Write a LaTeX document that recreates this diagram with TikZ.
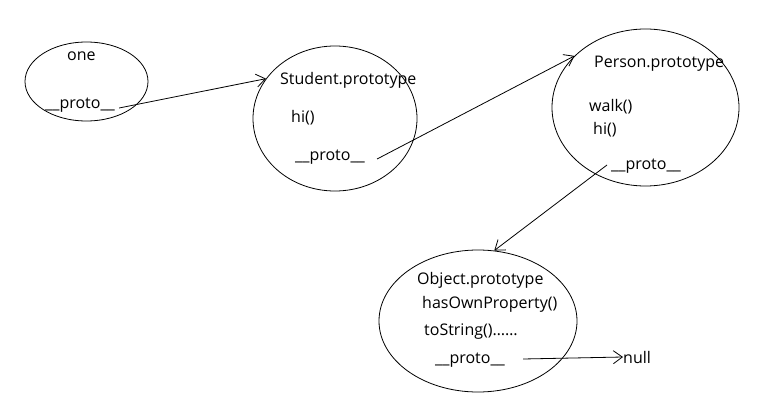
\documentclass[tikz,border=0pt]{standalone}
\usepackage{fontspec}
\setmainfont{Open Sans}
\usetikzlibrary{shapes.geometric,arrows.meta}
\begin{document}
\begin{tikzpicture}[x=1pt,y=-1pt,
  blob/.style={ellipse,draw,line width=0.8pt,inner sep=0pt},
  lbl/.style={font=\fontsize{16}{19}\selectfont,inner sep=0pt,anchor=base west,text=black},
  link/.style={line width=0.8pt,-{Straight Barb[length=9pt,width=13pt,line width=0.8pt]}}]
\useasboundingbox (0,0) rectangle (758,401);
% ellipses
\node[blob,minimum width=123pt,minimum height=79pt] (one) at (86.5,81.5) {};
\node[blob,minimum width=164pt,minimum height=145pt] (student) at (335,118.5) {};
\node[blob,minimum width=187pt,minimum height=157pt] (person) at (645.5,107.5) {};
\node[blob,minimum width=198pt,minimum height=142pt] (object) at (478,321) {};
% texts
\node[lbl] (tone) at (67,60.5) {one};
\node[lbl] (p1) at (45,109) {\_\_proto\_\_};
\node[lbl] (tstudent) at (280,85) {Student.prototype};
\node[lbl] (shi) at (291,122.5) {hi()};
\node[lbl] (p2) at (295,160.5) {\_\_proto\_\_};
\node[lbl] (tperson) at (594,67.5) {Person.prototype};
\node[lbl] (pwalk) at (589,112) {walk()};
\node[lbl] (phi) at (593,135) {hi()};
\node[lbl] (p3) at (611,170) {\_\_proto\_\_};
\node[lbl] (tobject) at (417,284.5) {Object.prototype};
\node[lbl] (ohas) at (422,308) {hasOwnProperty()};
\node[lbl] (ostr) at (424,335) {toString()……};
\node[lbl] (p4) at (435,363) {\_\_proto\_\_};
\node[lbl] (null) at (623,363) {null};
% links
\draw[link] ([xshift=4pt,yshift=1pt]p1.base east) -- (student.150);
\draw[link] ([xshift=12pt,yshift=1.5pt]p2.base east) -- (person.144.5);
\draw[link] ([xshift=-4pt,yshift=5pt]p3.base west) -- (object.77);
\draw[link] ([xshift=18pt,yshift=4pt]p4.base east) -- ([yshift=0pt]null.west);
\end{tikzpicture}
\end{document}
